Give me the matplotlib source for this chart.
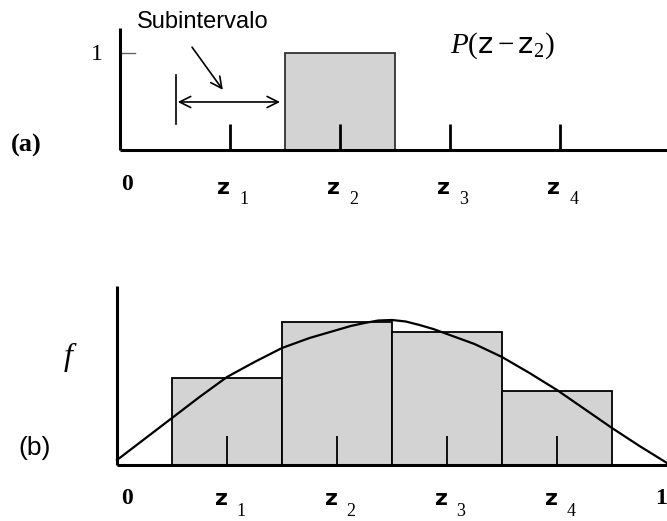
import matplotlib.pyplot as plt

plt.rcParams['mathtext.fontset'] = 'custom'
plt.rcParams['mathtext.rm'] = 'Liberation Serif'
plt.rcParams['mathtext.it'] = 'Liberation Serif:italic'
plt.rcParams['mathtext.sf'] = 'DejaVu Sans'

# sample points and their subscripts
z_pos = [0.2, 0.4, 0.6, 0.8]
z_subs = ['1', '2', '3', '4']

# (a) unit pulse P(z - z2) over one subinterval
pulse_left = 0.3
pulse_width = 0.2
pulse_height = 1.0

# (b) piecewise-constant approximation of f
bar_left = [0.1, 0.3, 0.5, 0.7]
bar_width = 0.2
bar_heights = [0.87, 1.43, 1.33, 0.74]

# f sampled along [0, 1]
curve_x = [0.0, 0.05, 0.1, 0.15, 0.2, 0.25, 0.3, 0.35, 0.4, 0.425, 0.45,
           0.475, 0.5, 0.525, 0.55, 0.575, 0.6, 0.65, 0.7, 0.75, 0.8,
           0.85, 0.9, 0.95, 1.0]
curve_f = [0.05, 0.26, 0.47, 0.68, 0.88, 1.03, 1.17, 1.27, 1.35, 1.39, 1.42,
           1.445, 1.45, 1.435, 1.40, 1.36, 1.31, 1.21, 1.08, 0.92, 0.75,
           0.56, 0.37, 0.19, 0.02]

W, H = 667, 521
fig = plt.figure(figsize=(W / 100, H / 100), dpi=100)

serif = 'Liberation Serif'
sans = 'DejaVu Sans'
gray = '#d3d3d3'


def setup(ax):
    for s in ['top', 'right']:
        ax.spines[s].set_visible(False)
    for s in ['left', 'bottom']:
        ax.spines[s].set_linewidth(2.2)
        ax.spines[s].set_capstyle('butt')
    ax.set_xticks([])
    ax.set_yticks([])
    ax.patch.set_alpha(0)


def z_labels(ax, dy):
    for z, s in zip(z_pos, z_subs):
        ax.annotate('z', xy=(z, 0), xytext=(-6, dy), textcoords='offset pixels',
                    ha='center', va='center', fontsize=16, family=sans,
                    fontweight='bold', annotation_clip=False)
        ax.annotate(s, xy=(z, 0), xytext=(14, dy - 12), textcoords='offset pixels',
                    ha='center', va='center', fontsize=13, family=serif,
                    annotation_clip=False)


# ---- panel (a)
ax_a = fig.add_axes([120 / W, (H - 150) / H, 547 / W, 122 / H])
setup(ax_a)
ax_a.set_xlim(0, 547 / 550)
ax_a.set_ylim(0, 122 / 97)

ax_a.bar(pulse_left, pulse_height, width=pulse_width, align='edge',
         color=gray, edgecolor='#333333', linewidth=1.3)
ax_a.vlines(z_pos, 0, 0.27, color='black', linewidth=2.0)
ax_a.plot([0, 15 / 550], [1, 1], color='#666666', linewidth=1.0, clip_on=False)
ax_a.annotate('1', xy=(0, 1), xytext=(-23, -2), textcoords='offset pixels',
              ha='center', va='center', fontsize=17, family=serif)
ax_a.annotate('0', xy=(0, 0), xytext=(7, -35), textcoords='offset pixels',
              ha='center', va='center', fontsize=17, family=serif,
              fontweight='bold', annotation_clip=False)
z_labels(ax_a, -38)

ax_a.text(0.031, 1.26, 'Subintervalo', fontsize=17, family='Liberation Sans',
          ha='left', va='baseline', clip_on=False)
ax_a.annotate('', xy=(0.187, 0.62), xytext=(0.131, 1.06),
              arrowprops=dict(arrowstyle='->', lw=1.2, color='black',
                              mutation_scale=20, shrinkA=0, shrinkB=0))
ax_a.annotate('', xy=(0.291, 0.495), xytext=(0.105, 0.495),
              arrowprops=dict(arrowstyle='<->', lw=1.2, color='black',
                              mutation_scale=20, shrinkA=0, shrinkB=0))
ax_a.plot([0.102, 0.102], [0.27, 0.77], color='black', linewidth=1.2)
ax_a.text(0.6, 1.0, r'$P(\mathsf{z}-\mathsf{z}_{\mathrm{2}})$', fontsize=21,
          ha='left', va='baseline')

# ---- panel (b)
ax_b = fig.add_axes([117 / W, (H - 465) / H, 550 / W, 179 / H])
setup(ax_b)
ax_b.set_xlim(0, 1)
ax_b.set_ylim(0, 1.79)

ax_b.bar(bar_left, bar_heights, width=bar_width, align='edge',
         color=gray, edgecolor='black', linewidth=1.3)
ax_b.vlines(z_pos, 0, 0.29, color='black', linewidth=1.3)
ax_b.plot(curve_x, curve_f, color='black', linewidth=1.6, clip_on=False)
ax_b.annotate('0', xy=(0, 0), xytext=(10, -34), textcoords='offset pixels',
              ha='center', va='center', fontsize=17, family=serif,
              fontweight='bold', annotation_clip=False)
ax_b.annotate('1', xy=(1, 0), xytext=(-6, -34), textcoords='offset pixels',
              ha='center', va='center', fontsize=17, family=serif,
              fontweight='bold', annotation_clip=False)
z_labels(ax_b, -34)

fig.text(26 / W, 1 - 145 / H, '(a)', fontsize=19, family=serif,
         fontweight='bold', ha='center', va='center')
fig.text(35 / W, 1 - 448 / H, '(b)', fontsize=19, family='Liberation Sans',
         ha='center', va='center')
fig.text(70 / W, 1 - 357 / H, r'$f$', fontsize=23, ha='center', va='center')

fig.savefig('out.png', dpi=100)
